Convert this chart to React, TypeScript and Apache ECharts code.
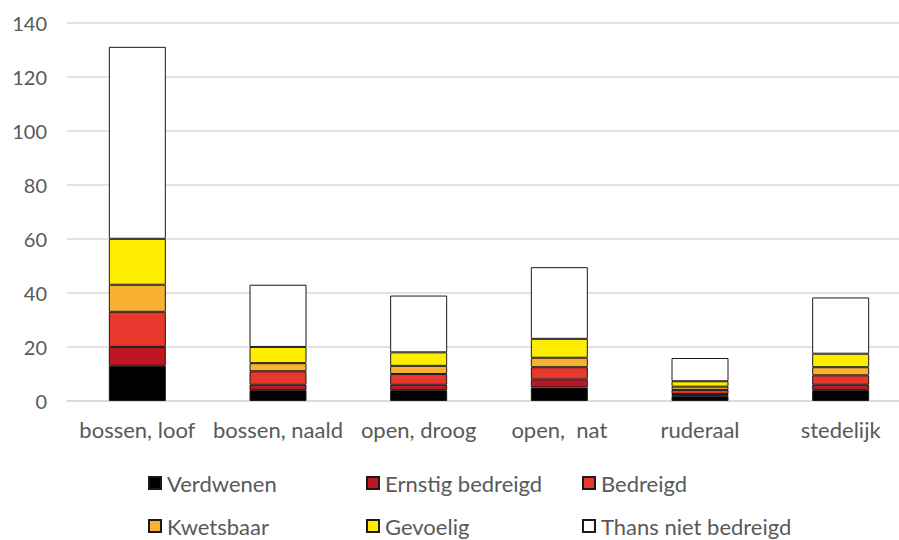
import React, { useEffect, useRef } from "react";
import * as echarts from "echarts";

const categories = ["bossen, loof", "bossen, naald", "open, droog", "open,  nat", "ruderaal", "stedelijk"];
const seriesNames = ["Verdwenen", "Ernstig bedreigd", "Bedreigd", "Kwetsbaar", "Gevoelig", "Thans niet bedreigd"];
const verdwenen = [13, 4, 4, 5, 1.8, 4];
const ernstig = [7, 2, 2, 3, 0.8, 2];
const bedreigd = [13, 5, 4, 4.5, 1.5, 3.5];
const kwetsbaar = [10, 3, 3, 3.5, 1.2, 3];
const gevoelig = [17, 6, 5, 7, 2, 5];
const thans = [71, 23, 21, 26.5, 8.6, 20.8];
const colors = ["#000000", "#be1622", "#e8372c", "#f8b133", "#ffed00", "#ffffff"];

const FONT = "Lato";

export default function App() {
  const ref = useRef<HTMLDivElement>(null);
  useEffect(() => {
    if (!ref.current) return;
    const chart = echarts.init(ref.current, null, { renderer: "svg" });
    const values = [verdwenen, ernstig, bedreigd, kwetsbaar, gevoelig, thans];
    const legendLeft = [148, 366, 582];
    const legendTop = [472, 515];
    chart.setOption({
      animation: false,
      grid: { left: 67, right: -12, top: 22.5, bottom: 139, outerBoundsMode: "none", containLabel: false },
      xAxis: {
        type: "category",
        data: categories,
        axisLine: { show: true, lineStyle: { color: "#d9d9d9", width: 1.5 } },
        axisTick: { show: false },
        axisLabel: { color: "#595959", fontSize: 22, fontFamily: FONT, margin: 17, interval: 0 },
      },
      yAxis: {
        type: "value",
        min: 0,
        max: 140,
        interval: 20,
        axisLine: { show: false },
        axisTick: { show: false },
        splitLine: { lineStyle: { color: "#d9d9d9", width: 1.5 } },
        axisLabel: { color: "#595959", fontSize: 20, fontFamily: FONT, margin: 20 },
      },
      legend: seriesNames.map((name, i) => ({
        data: [name],
        left: legendLeft[i % 3],
        top: legendTop[Math.floor(i / 3)],
        padding: 0,
        icon: "rect",
        itemWidth: 12,
        itemHeight: 12,
        itemGap: 0,
        selectedMode: false,
        textStyle: { color: "#595959", fontSize: 22, fontFamily: FONT, lineHeight: 22, padding: [0, 0, 0, 1] },
      })),
      series: seriesNames.map((name, i) => ({
        name,
        type: "bar",
        stack: "total",
        barWidth: 57,
        data: values[i],
        itemStyle: { color: colors[i], borderColor: "#1a1a1a", borderWidth: 1 },
      })),
    });
    return () => chart.dispose();
  }, []);
  return <div ref={ref} style={{ position: "absolute", left: 0, top: 0, width: 899, height: 540 }} />;
}
